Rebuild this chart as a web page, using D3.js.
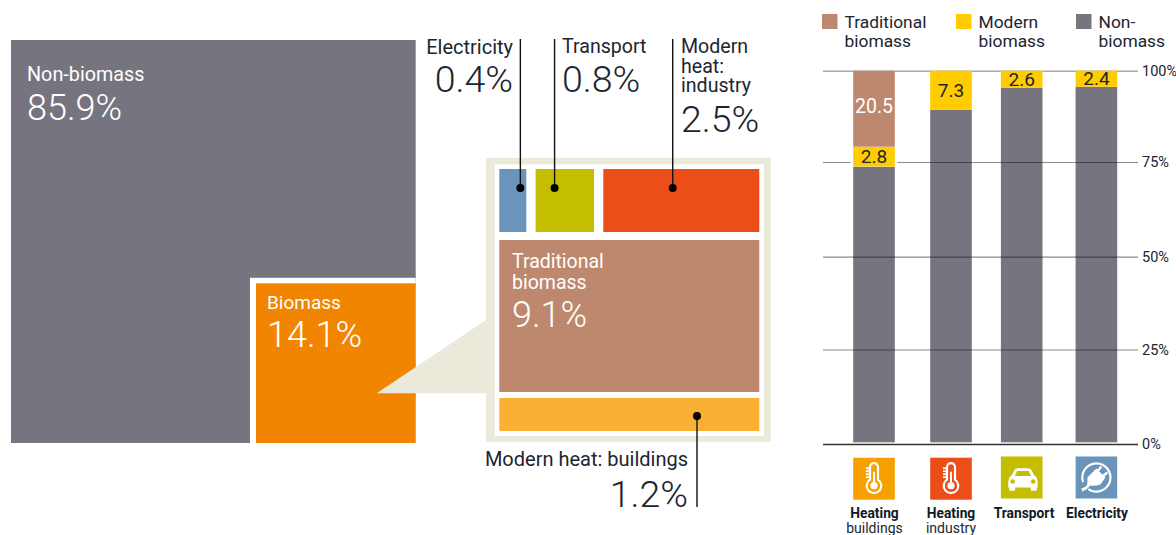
<!DOCTYPE html>
<html>
<head>
<meta charset="utf-8">
<script src="https://cdnjs.cloudflare.com/ajax/libs/d3/7.8.5/d3.min.js"></script>
<style>
  html, body { margin: 0; padding: 0; background: #fff; }
  svg { display: block; }
  text { font-family: Roboto, "Open Sans", sans-serif; }
</style>
</head>
<body>
<div id="chart"></div>
<script>
// left square
var shareNames = ['Non-biomass', 'Biomass']
var shareValues = [85.9, 14.1]

// breakdown of the biomass share
var topNames = ['Electricity', 'Transport', 'Modern heat: industry']
var topValues = [0.4, 0.8, 2.5]
var rowNames = ['Modern heat (top row)', 'Traditional biomass', 'Modern heat: buildings']
var rowValues = [3.7, 9.1, 1.2]

// stacked bars: heights as drawn, labels as printed (the two differ in the source)
var sectors = ['Heating buildings', 'Heating industry', 'Transport', 'Electricity']
var nonBiomass = [73.8, 89.3, 95.3, 95.6]
var modernBiomass = [5.4, 10.7, 4.7, 4.4]
var traditionalBiomass = [20.8, 0, 0, 0]
var modernLabels = ['2.8', '7.3', '2.6', '2.4']
var traditionalLabels = ['20.5', '', '', '']
var yTicks = [0, 25, 50, 75, 100]
var legendNames = [['Traditional', 'biomass'], ['Modern', 'biomass'], ['Non-', 'biomass']]

var GREY = '#76747e', ORANGE = '#f28500', BEIGE = '#ebe9da', BLUE = '#6a94b9', OLIVE = '#c5bd00',
    RED = '#ec4e1a', BROWN = '#bd886d', AMBER = '#fab133', YELLOW = '#ffcc00', ICON_ORANGE = '#f7a100'
var INK = '#1c2530'

var svg = d3.select('#chart').append('svg').attr('width', 1176).attr('height', 535)

function label(parent, x, y, str, size, opts) {
  opts = opts || {}
  return parent.append('text')
    .attr('x', x).attr('y', y)
    .attr('font-size', size)
    .attr('font-weight', opts.weight || 400)
    .attr('fill', opts.fill || INK)
    .attr('text-anchor', opts.anchor || 'start')
    .text(str)
}

// several lines in one text element
function multiline(parent, x, y, lines, size, lead, opts) {
  var t = label(parent, x, y, '', size, opts)
  t.selectAll('tspan').data(lines).enter().append('tspan')
    .attr('x', x)
    .attr('dy', function (d, i) { return i === 0 ? 0 : lead })
    .text(function (d) { return d })
  return t
}

/* ---------- left square ---------- */
var side = d3.scaleLinear().domain([0, shareValues[1], 100]).range([0, 159.7, 404.7])
var sq = { x: 11, y: 40 }
var biomassSide = side(shareValues[1])
var fullSide = side(100)

svg.append('rect').attr('x', sq.x).attr('y', sq.y).attr('width', fullSide).attr('height', 403).attr('fill', GREY)
svg.append('rect')
  .attr('x', sq.x + fullSide - biomassSide - 6).attr('y', sq.y + 403 - biomassSide - 5.5)
  .attr('width', biomassSide + 6).attr('height', biomassSide + 5.5).attr('fill', '#fff')
svg.append('rect')
  .attr('x', sq.x + fullSide - biomassSide).attr('y', sq.y + 403 - biomassSide)
  .attr('width', biomassSide).attr('height', biomassSide).attr('fill', ORANGE)

label(svg, 27, 81, shareNames[0], 19.8, { fill: '#fff' })
label(svg, 27, 120, shareValues[0] + '%', 36, { fill: '#fff', weight: 300 })
label(svg, 267, 309, shareNames[1], 19, { fill: '#fff' })
label(svg, 267, 347, shareValues[1] + '%', 36, { fill: '#fff', weight: 300 })

/* ---------- breakdown panel ---------- */
svg.append('path')
  .attr('d', d3.line()([[376.7, 393.3], [486, 320], [486, 393.3]]))
  .attr('fill', BEIGE)
svg.append('rect').attr('x', 486).attr('y', 158).attr('width', 284.7).attr('height', 283.7).attr('fill', BEIGE)
svg.append('rect').attr('x', 494.7).attr('y', 164.3).attr('width', 269.3).attr('height', 271.7).attr('fill', '#fff')

var topCum = d3.cumsum(topValues)
var rowCum = d3.cumsum(rowValues)
var topX = d3.scaleLinear().domain([0].concat(Array.from(topCum))).range([499.3, 526.3, 594, 759.3])
var rowY = d3.scaleLinear().domain([0].concat(Array.from(rowCum))).range([169, 232, 392, 431])

var topCells = topNames.map(function (n, i) {
  var gap = i === 0 ? 0 : 9.3
  return { name: n, x0: topX(i === 0 ? 0 : topCum[i - 1]) + gap, x1: topX(topCum[i]) }
})
var topFill = [BLUE, OLIVE, RED]

svg.selectAll('.topcell').data(topCells).enter().append('rect')
  .attr('class', 'topcell')
  .attr('x', function (d) { return d.x0 })
  .attr('y', rowY(0))
  .attr('width', function (d) { return d.x1 - d.x0 })
  .attr('height', rowY(rowCum[0]) - rowY(0))
  .attr('fill', function (d, i) { return topFill[i] })

svg.append('rect').attr('x', topX(0)).attr('y', rowY(rowCum[0]) + 8)
  .attr('width', topX(topCum[2]) - topX(0)).attr('height', rowY(rowCum[1]) - rowY(rowCum[0]) - 8)
  .attr('fill', BROWN)
svg.append('rect').attr('x', topX(0)).attr('y', rowY(rowCum[1]) + 6)
  .attr('width', topX(topCum[2]) - topX(0)).attr('height', rowY(rowCum[2]) - rowY(rowCum[1]) - 6)
  .attr('fill', AMBER)

multiline(svg, 512, 268, ['Traditional', 'biomass'], 19.5, 21, { fill: '#fff' })
label(svg, 512, 327, rowValues[1] + '%', 36, { fill: '#fff', weight: 300 })

// leader lines
var leaders = [
  { x: topCells[0].x0 + 0.78 * (topCells[0].x1 - topCells[0].x0), y0: 39, y1: rowY(0) + 19 },
  { x: topCells[1].x0 + 0.325 * (topCells[1].x1 - topCells[1].x0), y0: 39, y1: rowY(0) + 19 },
  { x: topCells[2].x0 + 0.445 * (topCells[2].x1 - topCells[2].x0), y0: 39, y1: rowY(0) + 19 },
  { x: 697, y0: 507, y1: 416 }
]
svg.selectAll('.leader').data(leaders).enter().append('line')
  .attr('class', 'leader')
  .attr('x1', function (d) { return d.x }).attr('x2', function (d) { return d.x })
  .attr('y1', function (d) { return d.y0 }).attr('y2', function (d) { return d.y1 })
  .attr('stroke', '#111').attr('stroke-width', 1.4)
svg.selectAll('.leaderdot').data(leaders).enter().append('circle')
  .attr('class', 'leaderdot')
  .attr('cx', function (d) { return d.x }).attr('cy', function (d) { return d.y1 })
  .attr('r', 4).attr('fill', '#000')

label(svg, 513, 54, topNames[0], 20, { anchor: 'end' })
label(svg, 513, 92, topValues[0] + '%', 37.5, { anchor: 'end', weight: 300 })
label(svg, 562, 53, topNames[1], 19.6)
label(svg, 562, 92, topValues[1] + '%', 37.5, { weight: 300 })
multiline(svg, 681, 53, ['Modern', 'heat:', 'industry'], 19.6, 19.5)
label(svg, 681, 132, topValues[2] + '%', 37.5, { weight: 300 })
label(svg, 688, 466, rowNames[2], 20, { anchor: 'end' })
label(svg, 688, 507, rowValues[2] + '%', 37.5, { anchor: 'end', weight: 300 })

/* ---------- stacked bars ---------- */
var y = d3.scaleLinear().domain(yTicks).range([444, 349.5, 256.7, 162, 70.7])
var xCenter = d3.scaleOrdinal().domain(sectors).range([874, 951, 1021.7, 1096.4])
var barW = 41.6

var rows = sectors.map(function (s, i) {
  return { sector: s, non: nonBiomass[i], modern: modernBiomass[i], traditional: traditionalBiomass[i] }
})
var series = d3.stack().keys(['non', 'modern', 'traditional'])(rows)
var barColor = { non: GREY, modern: YELLOW, traditional: BROWN }

function drawSeries(s) {
  svg.selectAll('.bar-' + s.key).data(s).enter().append('rect')
    .attr('class', 'bar-' + s.key)
    .attr('x', function (d) { return xCenter(d.data.sector) - barW / 2 })
    .attr('y', function (d) { return y(d[1]) })
    .attr('width', barW)
    .attr('height', function (d) {
      // the grey columns stop just short of the baseline
      return Math.max(0, y(d[0]) - y(d[1]) - (d[0] === 0 ? 1.7 : 0))
    })
    .attr('fill', barColor[s.key])
}

drawSeries(series[0])

var axis = svg.append('g')
  .attr('transform', 'translate(823,0)')
  .call(d3.axisRight(y).tickValues(yTicks).tickSize(315).tickPadding(4).tickFormat(function (d) { return d + '%' }))
axis.select('.domain').remove()
axis.selectAll('.tick line')
  .attr('stroke', function (d) { return d === 0 ? '#333' : d === 100 ? '#aaa' : 'rgba(20,20,30,0.5)' })
  .attr('stroke-width', function (d) { return d === 0 ? 1.6 : d === 100 ? 1.6 : 1.2 })
axis.selectAll('.tick text')
  .attr('font-size', 14.5).attr('font-family', 'Roboto').attr('fill', INK)

// white halo behind the one yellow segment that carries a gridline
svg.selectAll('.halo').data(series[1].filter(function (d) { return d.data.traditional > 0 })).enter().append('rect')
  .attr('class', 'halo')
  .attr('x', function (d) { return xCenter(d.data.sector) - barW / 2 - 2.5 })
  .attr('y', function (d) { return y(d[1]) })
  .attr('width', barW + 5)
  .attr('height', function (d) { return y(d[0]) - y(d[1]) })
  .attr('fill', '#fff')

drawSeries(series[1])
drawSeries(series[2])

svg.selectAll('.modern-label').data(series[1]).enter().append('text')
  .attr('class', 'modern-label')
  .attr('x', function (d) { return xCenter(d.data.sector) })
  .attr('y', function (d) { return y(d[0]) + (y(d[1]) - y(d[0])) / 2 + 6.5 })
  .attr('text-anchor', 'middle').attr('font-size', 19).attr('fill', INK)
  .text(function (d, i) { return modernLabels[i] })
svg.selectAll('.traditional-label').data(series[2]).enter().append('text')
  .attr('class', 'traditional-label')
  .attr('x', function (d) { return xCenter(d.data.sector) })
  .attr('y', function (d) { return y(d[0]) + (y(d[1]) - y(d[0])) / 2 + 4.5 })
  .attr('text-anchor', 'middle').attr('font-size', 19.5).attr('fill', '#fff')
  .text(function (d, i) { return traditionalLabels[i] })

// legend
var legendX = [822, 956, 1076]
var legendColor = [BROWN, YELLOW, GREY]
var leg = svg.selectAll('.leg').data(legendNames).enter().append('g')
  .attr('class', 'leg')
  .attr('transform', function (d, i) { return 'translate(' + legendX[i] + ',14)' })
leg.append('rect').attr('width', 15.5).attr('height', 15).attr('fill', function (d, i) { return legendColor[i] })
leg.append('text').attr('x', 22.5).attr('y', 13.5).attr('font-size', 17.4).attr('fill', INK).text(function (d) { return d[0] })
leg.append('text').attr('x', 22.5).attr('y', 32.5).attr('font-size', 17.4).attr('fill', INK).text(function (d) { return d[1] })

/* ---------- sector icons ---------- */
var iconFill = [ICON_ORANGE, RED, OLIVE, BLUE]
var iconTop = [457.7, 457.7, 456.5, 456.5]
var iconLabels = [['Heating', 'buildings'], ['Heating', 'industry'], ['Transport', ''], ['Electricity', '']]
var labelCenter = [874.5, 951, 1024, 1097]

var icons = svg.selectAll('.icon').data(sectors).enter().append('g')
  .attr('class', 'icon')
  .attr('transform', function (d, i) { return 'translate(' + xCenter(d) + ',' + (iconTop[i] + 21) + ')' })
icons.append('rect').attr('x', -barW / 2).attr('y', -21).attr('width', barW).attr('height', 42)
  .attr('fill', function (d, i) { return iconFill[i] })

function thermometer(g, bg) {
  g.append('path')
    .attr('d', 'M-4,1 V-11.5 A4,4 0 0 1 4,-11.5 V1 A7.3,7.3 0 1 1 -4,1 Z')
    .attr('fill', bg).attr('stroke', '#fff').attr('stroke-width', 2.2)
  g.append('circle').attr('cy', 7).attr('r', 3.6).attr('fill', '#fff')
  g.append('line').attr('y1', 7).attr('y2', -7).attr('stroke', '#fff').attr('stroke-width', 2)
  ;[-10.5, -7.5, -4.5, -1.5].forEach(function (t) {
    g.append('line').attr('x1', -8).attr('x2', -4).attr('y1', t).attr('y2', t).attr('stroke', '#fff').attr('stroke-width', 1.8)
  })
}
icons.filter(function (d, i) { return i === 0 }).call(thermometer, ICON_ORANGE)
icons.filter(function (d, i) { return i === 1 }).call(thermometer, RED)

var car = icons.filter(function (d, i) { return i === 2 })
car.append('path')
  .attr('d', 'M-13.5,7 Q-13.5,-1 -10,-2 L-7.5,-7 Q-6.5,-9.3 -3.5,-9.3 H6 Q9,-9.3 10,-7 L12.5,-2 Q16,-1 16,7 V10 H-13.5 Z')
  .attr('fill', '#fff')
car.append('path').attr('d', 'M-7,-1.5 L-4.5,-6.5 H7 L9.5,-1.5 Z').attr('fill', OLIVE)
car.append('rect').attr('x', -12.5).attr('y', 9).attr('width', 6).attr('height', 4.3).attr('rx', 1).attr('fill', '#fff')
car.append('rect').attr('x', 9).attr('y', 9).attr('width', 6).attr('height', 4.3).attr('rx', 1).attr('fill', '#fff')
car.append('circle').attr('cx', -9).attr('cy', 4).attr('r', 2.3).attr('fill', OLIVE)
car.append('circle').attr('cx', 11.5).attr('cy', 4).attr('r', 2.3).attr('fill', OLIVE)

var plug = icons.filter(function (d, i) { return i === 3 })
plug.append('path')
  .attr('d', d3.arc()({ innerRadius: 13, outerRadius: 15.2, startAngle: -1.9, endAngle: 3.75 }))
  .attr('fill', '#fff')
plug.append('path')
  .attr('d', 'M-15,11 Q-9,9 -9,6 L-9,0 L0,-9 L9,0 L4,7 Q-2,9 -6,8 Q-9,12 -14,14 Z')
  .attr('fill', '#fff')
plug.append('line').attr('x1', 1).attr('y1', -6).attr('x2', 5).attr('y2', -11).attr('stroke', '#fff').attr('stroke-width', 2.4)
plug.append('line').attr('x1', 6).attr('y1', -1).attr('x2', 11).attr('y2', -5).attr('stroke', '#fff').attr('stroke-width', 2.4)

iconLabels.forEach(function (l, i) {
  label(svg, labelCenter[i], 518, l[0], 13.8, { anchor: 'middle', weight: 700, fill: '#111a24' })
  if (l[1]) label(svg, labelCenter[i], 533, l[1], 14, { anchor: 'middle' })
})
</script>
</body>
</html>
